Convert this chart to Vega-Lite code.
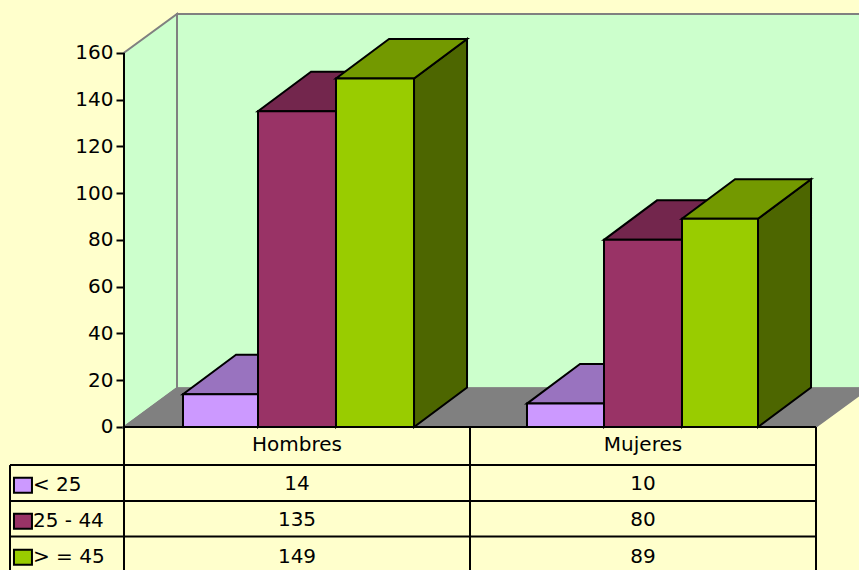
{"$schema":"https://vega.github.io/schema/vega-lite/v6.json","width":859,"height":570,"padding":0,"autosize":{"type":"none"},"background":"#FFFFCC","config":{"view":{"stroke":null},"text":{"font":"DejaVu Sans"},"axisY":{"offset":-124,"domain":false,"grid":false,"ticks":true,"tickColor":"#000000","tickSize":8,"tickWidth":2,"labelFont":"DejaVu Sans","labelFontSize":20,"labelColor":"#000000","labelPadding":3,"zindex":1}},"datasets":{"bars":[{"category":"Hombres","series":"< 25","value":14},{"category":"Hombres","series":"25 - 44","value":135},{"category":"Hombres","series":"> = 45","value":149},{"category":"Mujeres","series":"< 25","value":10},{"category":"Mujeres","series":"25 - 44","value":80},{"category":"Mujeres","series":"> = 45","value":89}],"leftWall":[{"x":0,"y":0,"y2":160},{"x":0.1532,"y":16.6,"y2":176.6}],"floor":[{"x":0,"x2":2,"y":0},{"x":0.1532,"x2":2.1532,"y":16.6}],"backWall":[{"x":0.1532,"x2":2.1532,"y":16.6,"y2":176.6}],"lines":[{"x":0,"x2":2,"y":0,"y2":0},{"x":-0.3295,"x2":2,"y":-16.3,"y2":-16.3},{"x":-0.3295,"x2":2,"y":-31.6,"y2":-31.6},{"x":-0.3295,"x2":2,"y":-46.8,"y2":-46.8},{"x":-0.3295,"x2":-0.3295,"y":-16.3,"y2":-61.35},{"x":0,"x2":0,"y":160,"y2":-61.35},{"x":1,"x2":1,"y":0,"y2":-61.35},{"x":2,"x2":2,"y":0,"y2":-61.35}],"headers":[{"category":"Hombres","x":0.5},{"category":"Mujeres","x":1.5}]},"resolve":{"scale":{"color":"independent"}},"layer":[{"data":{"name":"backWall"},"mark":{"type":"rect","fill":"#CCFFCC","stroke":"#808080","strokeWidth":2},"encoding":{"x":{"field":"x","type":"quantitative","scale":{"domain":[-0.35838,2.12428],"nice":false,"zero":false},"axis":null},"x2":{"field":"x2"},"y":{"field":"y","type":"quantitative","title":null,"scale":{"domain":[-61.15,182.55],"nice":false,"zero":false},"axis":{"values":[0,20,40,60,80,100,120,140,160]}},"y2":{"field":"y2"}}},{"data":{"name":"leftWall"},"mark":{"type":"area","fill":"#CCFFCC","stroke":"#808080","strokeWidth":2,"orient":"vertical"},"encoding":{"x":{"field":"x","type":"quantitative","axis":null},"y":{"field":"y","type":"quantitative","stack":null,"title":null},"y2":{"field":"y2"}}},{"data":{"name":"floor"},"mark":{"type":"area","fill":"#808080","stroke":"#808080","strokeWidth":1.5,"orient":"horizontal"},"encoding":{"y":{"field":"y","type":"quantitative","title":null},"x":{"field":"x","type":"quantitative","stack":null,"axis":null},"x2":{"field":"x2"}}},{"data":{"name":"bars"},"transform":[{"calculate":"indexof(['< 25','25 - 44','> = 45'],datum.series)","as":"s"},{"calculate":"datum.category==='Hombres'?0:1","as":"c"},{"calculate":"[[0.1705,0.3873,0.6127,0.8382],[1.1647,1.3873,1.6127,1.8324]][datum.c][datum.s]","as":"x0"},{"calculate":"[[0.1705,0.3873,0.6127,0.8382],[1.1647,1.3873,1.6127,1.8324]][datum.c][datum.s+1]","as":"x1"},{"calculate":"[0,1]","as":"k"}],"resolve":{"scale":{"color":"independent"}},"layer":[{"transform":[{"flatten":["k"]},{"calculate":"datum.x1+datum.k*0.1532","as":"sx"},{"calculate":"datum.value+datum.k*16.9","as":"sy"},{"calculate":"datum.k*16.9","as":"sy2"}],"mark":{"type":"area","stroke":"#000000","strokeWidth":2,"orient":"vertical","opacity":1},"encoding":{"x":{"field":"sx","type":"quantitative","axis":null},"y":{"field":"sy","type":"quantitative","stack":null,"title":null},"y2":{"field":"sy2"},"detail":[{"field":"category"},{"field":"series"}],"color":{"field":"series","type":"nominal","legend":null,"sort":null,"scale":{"domain":["< 25","25 - 44","> = 45"],"range":["#664D80","#4D1933","#4D6600"]}}}},{"transform":[{"flatten":["k"]},{"calculate":"datum.x0+datum.k*0.1532","as":"tx"},{"calculate":"datum.x1+datum.k*0.1532","as":"tx2"},{"calculate":"datum.value+datum.k*16.9","as":"ty"}],"mark":{"type":"area","stroke":"#000000","strokeWidth":2,"orient":"horizontal","opacity":1},"encoding":{"y":{"field":"ty","type":"quantitative","title":null},"x":{"field":"tx","type":"quantitative","stack":null,"axis":null},"x2":{"field":"tx2"},"detail":[{"field":"category"},{"field":"series"}],"color":{"field":"series","type":"nominal","legend":null,"sort":null,"scale":{"domain":["< 25","25 - 44","> = 45"],"range":["#9973BF","#73264D","#739900"]}}}},{"mark":{"type":"rect","stroke":"#000000","strokeWidth":2,"opacity":1},"encoding":{"x":{"field":"x0","type":"quantitative","axis":null},"x2":{"field":"x1"},"y":{"field":"value","type":"quantitative","title":null},"y2":{"datum":0},"color":{"field":"series","type":"nominal","legend":null,"sort":null,"scale":{"domain":["< 25","25 - 44","> = 45"],"range":["#CC99FF","#993366","#99CC00"]}}}}]},{"data":{"name":"lines"},"mark":{"type":"rule","color":"#000000","strokeWidth":2},"encoding":{"x":{"field":"x","type":"quantitative","axis":null},"x2":{"field":"x2"},"y":{"field":"y","type":"quantitative","title":null},"y2":{"field":"y2"}}},{"data":{"name":"headers"},"mark":{"type":"text","fontSize":20,"color":"#000000","align":"center","baseline":"middle"},"encoding":{"x":{"field":"x","type":"quantitative","axis":null},"y":{"datum":-7.9,"type":"quantitative","title":null},"text":{"field":"category"}}},{"data":{"name":"bars"},"transform":[{"calculate":"indexof(['< 25','25 - 44','> = 45'],datum.series)","as":"s"},{"calculate":"datum.category==='Hombres'?0.5:1.5","as":"tx"},{"calculate":"-24.2-datum.s*15.6","as":"ty"}],"mark":{"type":"text","fontSize":20,"color":"#000000","align":"center","baseline":"middle"},"encoding":{"x":{"field":"tx","type":"quantitative","axis":null},"y":{"field":"ty","type":"quantitative","title":null},"text":{"field":"value","type":"quantitative"}}},{"data":{"name":"bars"},"transform":[{"filter":"datum.category==='Hombres'"},{"calculate":"indexof(['< 25','25 - 44','> = 45'],datum.series)","as":"s"},{"calculate":"-24.9-datum.s*15.4","as":"ty"},{"calculate":"datum.ty+3.2","as":"ya"},{"calculate":"datum.ty-3.2","as":"yb"},{"calculate":"-0.318","as":"xa"},{"calculate":"-0.266","as":"xb"}],"mark":{"type":"rect","stroke":"#000000","strokeWidth":2,"opacity":1},"encoding":{"x":{"field":"xa","type":"quantitative","axis":null},"x2":{"field":"xb"},"y":{"field":"ya","type":"quantitative","title":null},"y2":{"field":"yb"},"color":{"field":"series","type":"nominal","legend":null,"sort":null,"scale":{"domain":["< 25","25 - 44","> = 45"],"range":["#CC99FF","#993366","#99CC00"]}}}},{"data":{"name":"bars"},"transform":[{"filter":"datum.category==='Hombres'"},{"calculate":"indexof(['< 25','25 - 44','> = 45'],datum.series)","as":"s"},{"calculate":"-24.9-datum.s*15.4","as":"ty"},{"calculate":"-0.263","as":"tx"}],"mark":{"type":"text","fontSize":20,"color":"#000000","align":"left","baseline":"middle"},"encoding":{"x":{"field":"tx","type":"quantitative","axis":null},"y":{"field":"ty","type":"quantitative","title":null},"text":{"field":"series"}}}]}
